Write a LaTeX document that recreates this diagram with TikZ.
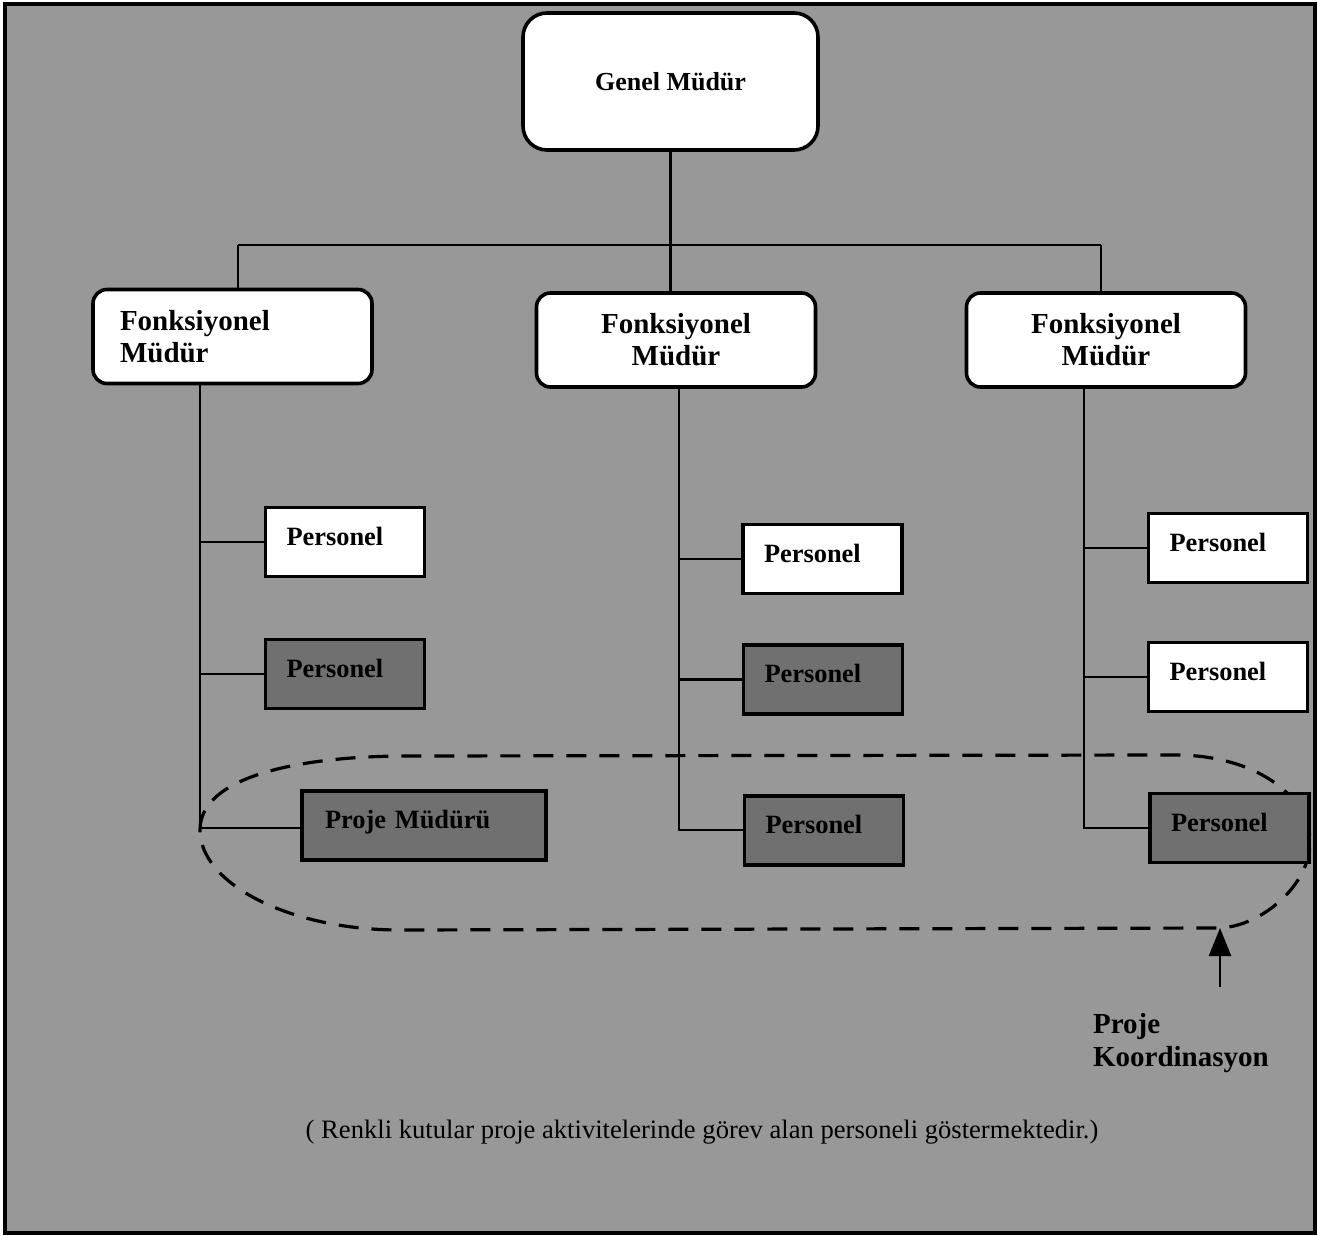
\documentclass[tikz,border=0pt]{standalone}
\usepackage{fontspec}
\setmainfont{Liberation Serif}
\usetikzlibrary{arrows.meta}
\definecolor{bggray}{RGB}{152,152,152}
\definecolor{boxgray}{RGB}{112,112,112}
\begin{document}
\begin{tikzpicture}[x=0.5pt,y=-0.5pt,
  conn/.style={line width=1.3pt},
  topbox/.style={draw, line width=1.8pt, fill=white, rounded corners=12pt,
    minimum width=147.5pt, minimum height=68.5pt, font=\bfseries\fontsize{13}{15}\selectfont},
  fbox/.style={draw, line width=1.8pt, fill=white, rounded corners=7pt,
    minimum width=139.5pt, minimum height=47pt, align=center,
    font=\bfseries\fontsize{14.5}{16}\selectfont},
  pbox/.style={draw, line width=1.6pt, fill=white, minimum height=34.5pt,
    text width=58.5pt, inner xsep=10.5pt, align=left,
    text height=9pt, text depth=6pt, font=\bfseries\fontsize{13.2}{15}\selectfont},
  pshade/.style={pbox, fill=boxgray},
  coord/.style={dashed, line width=1.6pt, dash pattern=on 10pt off 6.5pt}
]
\useasboundingbox (0,0) rectangle (1318,1236);
% frame and background
\draw[line width=1.6pt, fill=bggray] (5,4) rectangle (1315,1233);

% project coordination outline (drawn first, boxes sit on top of it)
\coordinate (elltip) at (1220,928);
\draw[coord] (200,830) .. controls (200,776) and (300,757) .. (400,756)
  -- (1180,755) .. controls (1262,757) and (1310,800) .. (1310,842)
  .. controls (1310,885) and (1262,926) .. (elltip)
  -- (400,930) .. controls (290,930) and (200,884) .. cycle;

% top level
\node[topbox] (gm) at (670.5,81.5) {Genel Müdür};

% functional managers
\node[fbox, align=left, text width=112.5pt, inner xsep=13.5pt] (f1) at (232.5,336.5) {Fonksiyonel\\Müdür};
\node[fbox] (f2) at (676,340) {Fonksiyonel\\Müdür};
\node[fbox] (f3) at (1106,340) {Fonksiyonel\\Müdür};

% staff
\node[pbox]   (l1) at (345,542)     {Personel};
\node[pshade] (l2) at (345,674)     {Personel};
\node[pshade, text width=99pt, inner xsep=11.5pt] (pm) at (424,825.5) {Proje Müdürü};
\node[pbox]   (m1) at (822.5,559)   {Personel};
\node[pshade] (m2) at (823,679.5)   {Personel};
\node[pshade] (m3) at (824,830.5)   {Personel};
\node[pbox]   (r1) at (1228,548)    {Personel};
\node[pbox]   (r2) at (1228,677)    {Personel};
\node[pshade] (r3) at (1229.5,828)  {Personel};

% hierarchy lines
\coordinate (busl) at (238,245);
\coordinate (busr) at (1101,245);
\draw[conn] (gm.south) -- (gm.south |- f2.north);
\draw[conn] (busl) -- (busr);
\draw[conn] (busl) -- (busl |- f1.north);
\draw[conn] (busr) -- (busr |- f3.north);

\coordinate (v1) at (200,828);
\coordinate (v2) at (679,830);
\coordinate (v3) at (1084,828);
\draw[conn] (f1.south -| v1) -- (v1) -- (pm.west |- v1);
\draw[conn] (l1.west) -- (l1.west -| v1);
\draw[conn] (l2.west) -- (l2.west -| v1);
\draw[conn] (f2.south -| v2) -- (v2) -- (m3.west |- v2);
\draw[conn] (m1.west) -- (m1.west -| v2);
\draw[conn] (m2.west) -- (m2.west -| v2);
\draw[conn] (f3.south -| v3) -- (v3) -- (r3.west |- v3);
\draw[conn] (r1.west) -- (r1.west -| v3);
\draw[conn] (r2.west) -- (r2.west -| v3);

% project coordination label
\node[anchor=west, align=left, font=\bfseries\fontsize{14.5}{16.5}\selectfont] (pk) at (1086,1043) {Proje\\Koordinasyon};
\coordinate (arrtail) at (1220,987);
\draw[conn, -{Triangle[length=14pt,width=11pt]}] (arrtail) -- (elltip);

% note
\node[font=\fontsize{13.3}{15}\selectfont] (note) at (702,1132)
  {( Renkli kutular proje aktivitelerinde görev alan personeli göstermektedir.)};
\end{tikzpicture}
\end{document}
